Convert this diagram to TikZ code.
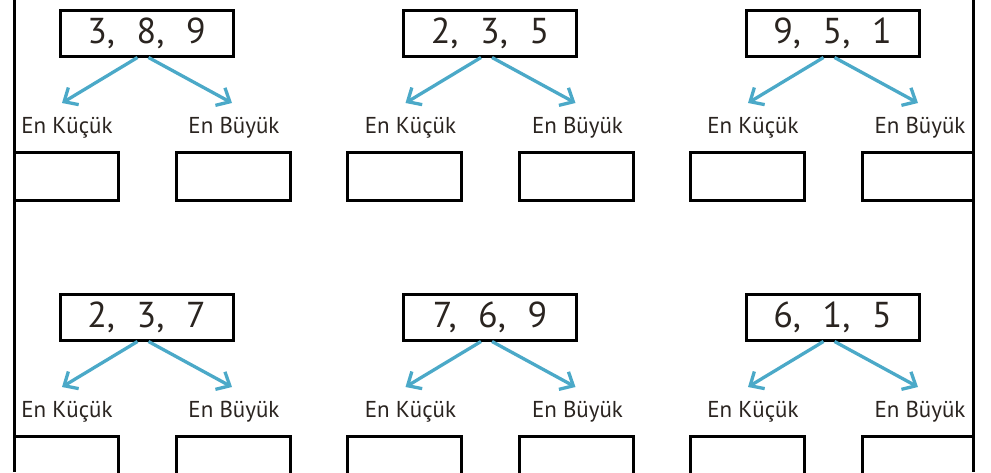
\documentclass[tikz,border=0pt]{standalone}
\usepackage{fontspec}
\setmainfont{PT Sans}
\usetikzlibrary{arrows.meta}
\definecolor{arrowblue}{HTML}{4BA9C8}
\definecolor{ink}{HTML}{2A2420}
\begin{document}
\begin{tikzpicture}[x=1pt,y=-1pt,
  numbox/.style={draw, line width=3pt, minimum width=173pt, minimum height=46pt, inner sep=0pt, font=\fontsize{36}{36}\selectfont, text=ink},
  ansbox/.style={draw, line width=3pt, minimum width=114pt, minimum height=48pt, inner sep=0pt},
  lbl/.style={font=\fontsize{23}{23}\selectfont, inner sep=0pt, text=ink},
  pointer/.style={draw=arrowblue, line width=3.3pt, -{Straight Barb[length=11pt,width=20pt]}},
  frame/.style={line width=3pt}]
\useasboundingbox (0,0) rectangle (991,472);
\begin{scope}
\clip (14,0) rectangle (973,472);
\foreach \r/\dy in {1/0,2/284}{
  \foreach \g/\dx/\txt in {1/0/{3,\hspace{0.6em}8,\hspace{0.6em}9},2/343.5/{2,\hspace{0.6em}3,\hspace{0.6em}5},3/686/{9,\hspace{0.6em}5,\hspace{0.6em}1}}{
    \ifnum\r=2
      \ifcase\g\or
        \def\txt{2,\hspace{0.6em}3,\hspace{0.6em}7}\or
        \def\txt{7,\hspace{0.6em}6,\hspace{0.6em}9}\or
        \def\txt{6,\hspace{0.6em}1,\hspace{0.6em}5}\fi
    \fi
    \node[numbox] (top\r\g) at (146.5+\dx,33+\dy) {\txt};
    \node[lbl] (small\r\g) at (67+\dx,128+\dy) {En Küçük};
    \node[lbl] (big\r\g) at (234+\dx,128+\dy) {En Büyük};
    \node[ansbox] (ansS\r\g) at (61+\dx,176+\dy) {};
    \node[ansbox] (ansB\r\g) at (233+\dx,176+\dy) {};
    \coordinate (tipS\r\g) at (62+\dx,103+\dy);
    \coordinate (tipB\r\g) at (232+\dx,103+\dy);
    \draw[pointer] ([xshift=-9pt]top\r\g.south) -- (tipS\r\g);
    \draw[pointer] ([xshift=2pt]top\r\g.south) -- (tipB\r\g);
  }
}
\end{scope}
\draw[frame] (14,0) -- (14,472);
\draw[frame] (973,0) -- (973,472);
\end{tikzpicture}
\end{document}
